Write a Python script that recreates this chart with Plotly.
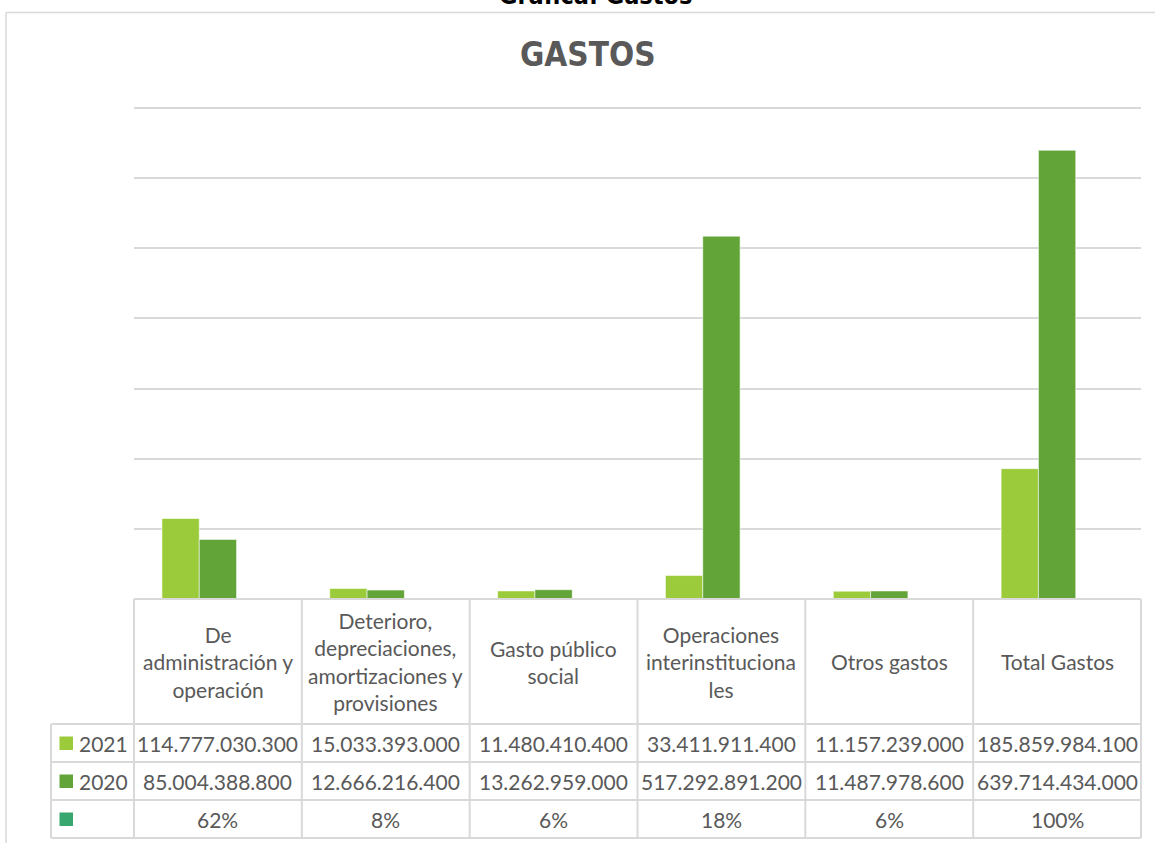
import plotly.graph_objects as go

# ---------------- data ----------------
categories = ["De administración y operación",
              "Deterioro, depreciaciones, amortizaciones y provisiones",
              "Gasto público social",
              "Operaciones interinstitucionales",
              "Otros gastos",
              "Total Gastos"]
header_labels = ["De<br>administración y<br>operación",
                 "Deterioro,<br>depreciaciones,<br>amortizaciones y<br>provisiones",
                 "Gasto público<br>social",
                 "Operaciones<br>interinstituciona<br>les",
                 "Otros gastos",
                 "Total Gastos"]
values_2021 = [114777030300, 15033393000, 11480410400, 33411911400, 11157239000, 185859984100]
values_2020 = [85004388800, 12666216400, 13262959000, 517292891200, 11487978600, 639714434000]
shares = [0.62, 0.08, 0.06, 0.18, 0.06, 1.00]
series_names = ["2021", "2020", ""]
colors = ["#9BCB3B", "#62A438", "#37A76F"]

# ---------------- geometry helpers (pixel -> paper) ----------------
W, H = 1155, 843
L, R, T, B = 134, 1141, 104, 599
TOPGRID = 108           # pixel row of the top gridline (700 000 000 000)
PW, PH = R - L, B - T
YMAX = 7e11 * (B - T) / (B - TOPGRID)


def px(x):
    return (x - L) / PW


def py(y):
    return (B - y) / PH


GRID = "#D9D9D9"
TXT = "#595959"
TFONT = "Lato"
TSIZE = 21
HFONT = "Liberation Sans Narrow, DejaVu Sans Condensed, Liberation Sans"

fig = go.Figure()
for name, vals, col in zip(series_names, [values_2021, values_2020, shares], colors):
    fig.add_trace(go.Bar(x=categories, y=vals, name=name, marker_color=col,
                         marker_line=dict(color="rgba(255,255,255,0.55)", width=1),
                         hoverinfo="skip"))

shapes = []
annotations = []

# outer chart border (left + top)
shapes.append(dict(type="line", xref="paper", yref="paper", x0=px(6), x1=px(6), y0=py(12.5), y1=py(860),
                   line=dict(color=GRID, width=1.5)))
shapes.append(dict(type="line", xref="paper", yref="paper", x0=px(6), x1=px(1170), y0=py(12.5), y1=py(12.5),
                   line=dict(color=GRID, width=1.5)))

# data table lines
row_tops = [599, 724, 762, 800, 838]
col_edges = [L + i * PW / len(categories) for i in range(len(categories) + 1)]
tbl_left = 51
shapes.append(dict(type="line", xref="paper", yref="paper", x0=px(L), x1=px(R), y0=py(599), y1=py(599),
                   line=dict(color=GRID, width=2)))
for yy in row_tops[1:]:
    shapes.append(dict(type="line", xref="paper", yref="paper", x0=px(tbl_left), x1=px(R), y0=py(yy), y1=py(yy),
                       line=dict(color=GRID, width=2)))
for xx in col_edges:
    shapes.append(dict(type="line", xref="paper", yref="paper", x0=px(xx), x1=px(xx), y0=py(599), y1=py(838),
                       line=dict(color=GRID, width=2)))
shapes.append(dict(type="line", xref="paper", yref="paper", x0=px(tbl_left), x1=px(tbl_left), y0=py(724), y1=py(838),
                   line=dict(color=GRID, width=2)))

# header labels
for cat, lab in zip(categories, header_labels):
    annotations.append(dict(x=cat, xref="x", y=py((599 + 724) / 2), yref="paper", text=lab, showarrow=False,
                            xanchor="center", yanchor="middle", align="center",
                            font=dict(family=TFONT, size=TSIZE, color=TXT)))


def fmt(v):
    return f"{v:,}".replace(",", ".")


rows = [[fmt(v) for v in values_2021], [fmt(v) for v in values_2020], [f"{round(s * 100)}%" for s in shares]]
for r, (cells, name, col) in enumerate(zip(rows, series_names, colors)):
    yc = (row_tops[r + 1] + row_tops[r + 2]) / 2
    for cat, txt in zip(categories, cells):
        annotations.append(dict(x=cat, xref="x", y=py(yc), yref="paper", text=txt, showarrow=False,
                                xanchor="center", yanchor="middle",
                                font=dict(family=TFONT, size=TSIZE, color=TXT)))
    shapes.append(dict(type="rect", xref="paper", yref="paper", x0=px(59.5), x1=px(73), y0=py(yc - 6.5), y1=py(yc + 7),
                       fillcolor=col, line=dict(width=0)))
    if name:
        annotations.append(dict(x=px(77), xref="paper", y=py(yc), yref="paper", text=name, showarrow=False,
                                xanchor="left", yanchor="middle",
                                font=dict(family=TFONT, size=TSIZE, color=TXT)))

# titles
annotations.append(dict(x=px(588), xref="paper", y=py(54), yref="paper", text="<b>GASTOS</b>", showarrow=False,
                        xanchor="center", yanchor="middle",
                        font=dict(family=HFONT, size=33, color=TXT)))
annotations.append(dict(x=px(595), xref="paper", y=py(-4), yref="paper", text="<b>Gráfica: Gastos</b>",
                        showarrow=False, xanchor="center", yanchor="middle",
                        font=dict(family=HFONT, size=25, color="#000000")))

fig.update_layout(
    width=W, height=H,
    margin=dict(l=L, r=W - R, t=T, b=H - B, pad=0),
    paper_bgcolor="white", plot_bgcolor="white",
    barmode="group", bargap=0.333, bargroupgap=0,
    showlegend=False,
    xaxis=dict(showticklabels=False, showgrid=False, showline=False, zeroline=False, ticks=""),
    yaxis=dict(range=[0, YMAX], dtick=1e11, showticklabels=False, showgrid=True,
               gridcolor=GRID, gridwidth=2, zeroline=False, ticks="", showline=False),
    shapes=shapes, annotations=annotations,
)

fig.write_html("out.html", config={"displayModeBar": False},
               post_script="document.body.style.margin='0';document.body.style.overflow='hidden';")
